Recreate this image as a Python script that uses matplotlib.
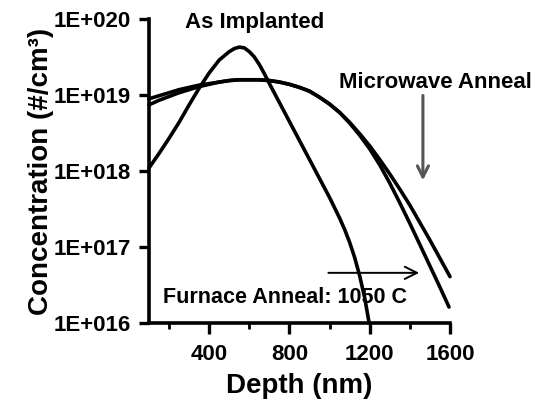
import numpy as np
import matplotlib
matplotlib.use('Agg')
import matplotlib.pyplot as plt
from matplotlib.ticker import FixedLocator, FuncFormatter

plt.rcParams['font.family'] = ['Liberation Sans', 'DejaVu Sans']

# perfiles de concentracion (profundidad en nm, log10 de concentracion)
depth_impl = [100, 150, 200, 250, 300, 350, 400, 450, 500, 525, 550, 575, 600, 625, 650, 675,
              700, 750, 800, 850, 900, 950, 1000, 1050, 1075, 1100, 1125, 1150, 1175, 1197]
logc_impl = [18.04, 18.23, 18.43, 18.64, 18.87, 19.09, 19.29, 19.46, 19.57, 19.61, 19.63, 19.62, 19.57, 19.50, 19.40, 19.28,
             19.15, 18.90, 18.65, 18.40, 18.15, 17.90, 17.65, 17.38, 17.23, 17.06, 16.86, 16.62, 16.33, 16.0]

depth_mw = [100, 150, 200, 250, 300, 350, 400, 450, 500, 550, 600, 650, 700, 750, 800, 850, 900, 950,
            1000, 1050, 1100, 1150, 1200, 1250, 1300, 1350, 1400, 1450, 1500, 1550, 1600]
logc_mw = [18.95, 18.99, 19.03, 19.07, 19.10, 19.13, 19.15, 19.17, 19.19, 19.20, 19.20, 19.20, 19.19, 19.17, 19.14, 19.10, 19.05, 18.97,
           18.88, 18.77, 18.64, 18.49, 18.33, 18.15, 17.96, 17.76, 17.55, 17.32, 17.09, 16.85, 16.61]

depth_furn = [100, 150, 200, 250, 300, 350, 400, 450, 500, 550, 600, 650, 700, 750, 800, 850, 900, 950,
              1000, 1050, 1100, 1150, 1200, 1250, 1300, 1350, 1400, 1450, 1500, 1550, 1595]
logc_furn = [18.87, 18.93, 18.98, 19.03, 19.07, 19.11, 19.14, 19.17, 19.19, 19.20, 19.20, 19.20, 19.19, 19.17, 19.14, 19.10, 19.05, 18.97,
             18.88, 18.77, 18.63, 18.47, 18.29, 18.08, 17.84, 17.58, 17.31, 17.03, 16.75, 16.47, 16.21]

yticks = [1e16, 1e17, 1e18, 1e19, 1e20]
xticks_major = [400, 800, 1200, 1600]
xticks_minor = [200, 600, 1000, 1400]

fig = plt.figure(figsize=(5.39, 4.03), dpi=100)
ax = fig.add_axes([0.2764, 0.1985, 0.8349 - 0.2764, 0.9529 - 0.1985])

for d, c in [(depth_impl, logc_impl), (depth_mw, logc_mw), (depth_furn, logc_furn)]:
    ax.semilogy(d, 10 ** np.array(c), color='black', lw=2.6, solid_capstyle='round',
                solid_joinstyle='round', clip_on=False)

ax.set_xlim(100, 1600)
ax.set_ylim(1e16, 1e20)
ax.yaxis.set_major_locator(FixedLocator(yticks))
ax.yaxis.set_minor_locator(FixedLocator([]))
ax.yaxis.set_major_formatter(FuncFormatter(lambda v, p: '1E+%03d' % round(np.log10(v))))
ax.xaxis.set_major_locator(FixedLocator(xticks_major))
ax.xaxis.set_minor_locator(FixedLocator(xticks_minor))

for s in ['top', 'right']:
    ax.spines[s].set_visible(False)
for s in ['left', 'bottom']:
    ax.spines[s].set_linewidth(2.6)

ax.tick_params(which='major', length=7, width=2.4, labelsize=16)
ax.tick_params(which='minor', length=4, width=2.0)
ax.tick_params(axis='y', pad=6)
ax.tick_params(axis='x', which='major', length=8, pad=7)
for lab in ax.get_xticklabels() + ax.get_yticklabels():
    lab.set_fontweight('bold')

ax.set_xlabel('Depth (nm)', fontsize=20, fontweight='bold', labelpad=6)
ax.set_ylabel('Concentration (#/cm³)', fontsize=20, fontweight='bold', labelpad=0)

ax.text(280, 10 ** 19.96, 'As Implanted', fontsize=16, fontweight='bold', va='center', ha='left')
ax.text(1045, 10 ** 19.17, 'Microwave Anneal', fontsize=16, fontweight='bold', va='center', ha='left')
ax.text(170, 10 ** 16.34, 'Furnace Anneal: 1050 C', fontsize=15.5, fontweight='bold', va='center', ha='left')

# flechas
ax.annotate('', xy=(1465, 10 ** 17.84), xytext=(1465, 10 ** 19.03),
            arrowprops=dict(arrowstyle='->', color='#555555', lw=2.2, mutation_scale=20))
ax.annotate('', xy=(1460, 10 ** 16.66), xytext=(980, 10 ** 16.66),
            arrowprops=dict(arrowstyle='->', color='black', lw=1.4, mutation_scale=22))

plt.savefig('out.png', dpi=100)
